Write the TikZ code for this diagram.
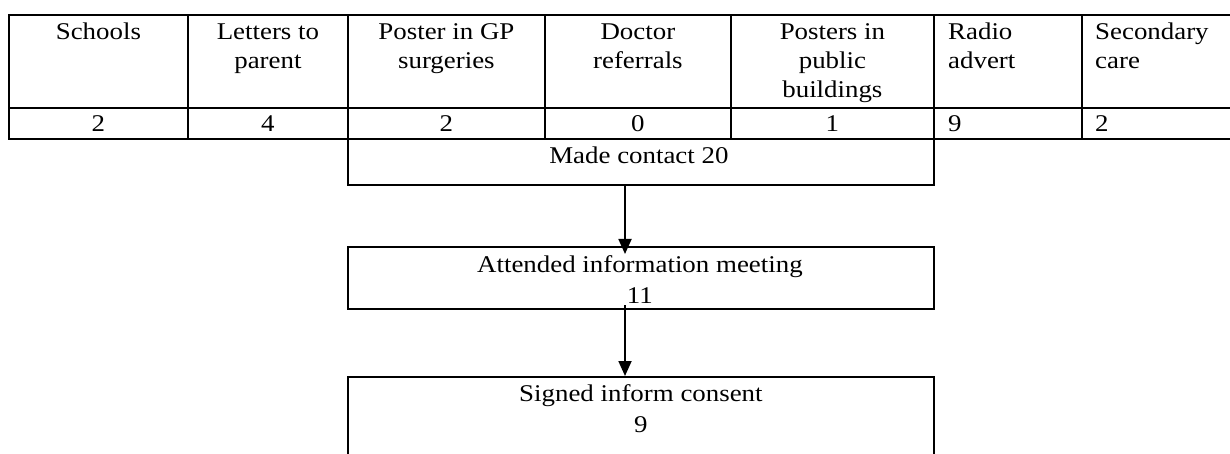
\documentclass[tikz,border=0pt]{standalone}
\usepackage{fontspec}
\setmainfont[FakeStretch=1.12]{Liberation Serif}
\usetikzlibrary{arrows.meta,calc}

\begin{document}
\begin{tikzpicture}[x=1pt,y=-1pt,
  cell/.style={draw, line width=1.8pt, inner sep=0pt, anchor=north west},
  hdr/.style={inner sep=0pt, anchor=base, align=center,
    font=\fontsize{24}{29}\selectfont},
  hdrl/.style={hdr, anchor=base west, align=left},
  boxtxt/.style={inner sep=0pt, anchor=base, align=center,
    font=\fontsize{24}{31}\selectfont},
  flow/.style={line width=1.8pt, -{Triangle[width=13pt,length=15pt]}}
]
\useasboundingbox (0,0) rectangle (1230,454);

% source table: header row
\node[cell, minimum width=179pt, minimum height=93pt] (h1) at (8,14) {};
\node[cell, minimum width=160pt, minimum height=93pt] (h2) at (187,14) {};
\node[cell, minimum width=197pt, minimum height=93pt] (h3) at (347,14) {};
\node[cell, minimum width=186pt, minimum height=93pt] (h4) at (544,14) {};
\node[cell, minimum width=203pt, minimum height=93pt] (h5) at (730,14) {};
\node[cell, minimum width=148pt, minimum height=93pt] (h6) at (933,14) {};
\node[cell, minimum width=170pt, minimum height=93pt] (h7) at (1081,14) {};

% source table: count row
\node[cell, minimum width=179pt, minimum height=31pt] (n1) at (8,107) {};
\node[cell, minimum width=160pt, minimum height=31pt] (n2) at (187,107) {};
\node[cell, minimum width=197pt, minimum height=31pt] (n3) at (347,107) {};
\node[cell, minimum width=186pt, minimum height=31pt] (n4) at (544,107) {};
\node[cell, minimum width=203pt, minimum height=31pt] (n5) at (730,107) {};
\node[cell, minimum width=148pt, minimum height=31pt] (n6) at (933,107) {};
\node[cell, minimum width=170pt, minimum height=31pt] (n7) at (1081,107) {};

% header labels (anchored on the baseline of their last line)
\node[hdr] (t1) at ($(h1.north)+(0,26)$) {Schools};
\node[hdr] (t2) at ($(h2.north)+(0,55)$) {Letters to\\parent};
\node[hdr] (t3) at ($(h3.north)+(0,55)$) {Poster in GP\\surgeries};
\node[hdr] (t4) at ($(h4.north)+(0,55)$) {Doctor\\referrals};
\node[hdr] (t5) at ($(h5.north)+(0,84)$) {Posters in\\public\\buildings};
\node[hdrl] (t6) at ($(h6.north west)+(15,55)$) {Radio\\advert};
\node[hdrl] (t7) at ($(h7.north west)+(14,55)$) {Secondary\\care};

% counts
\node[hdr] (c1) at ($(n1.north)+(0,25)$) {2};
\node[hdr] (c2) at ($(n2.north)+(0,25)$) {4};
\node[hdr] (c3) at ($(n3.north)+(0,25)$) {2};
\node[hdr] (c4) at ($(n4.north)+(0,25)$) {0};
\node[hdr] (c5) at ($(n5.north)+(0,25)$) {1};
\node[hdrl] (c6) at ($(n6.north west)+(15,25)$) {9};
\node[hdrl] (c7) at ($(n7.north west)+(14,25)$) {2};

% flow boxes
\node[cell, minimum width=586pt, minimum height=46pt] (mc) at (347,138) {};
\node[cell, minimum width=586pt, minimum height=62pt] (att) at (347,246) {};
\node[cell, minimum width=586pt, minimum height=110pt] (sig) at (347,376) {};

\node[boxtxt] (mct) at ($(mc.north)+(-2,26)$) {Made contact 20};
\node[boxtxt] (attt) at ($(att.north)+(-1,57)$) {Attended information meeting\\11};
\node[boxtxt] (sigt) at ($(sig.north)+(0,56)$) {Signed inform consent\\9};

% arrows
\coordinate (a1) at (625,254);
\coordinate (a2s) at (625,305);
\draw[flow] (a1 |- mc.south) -- (a1);
\draw[flow] (a2s) -- (a2s |- sig.north);
\end{tikzpicture}
\end{document}
